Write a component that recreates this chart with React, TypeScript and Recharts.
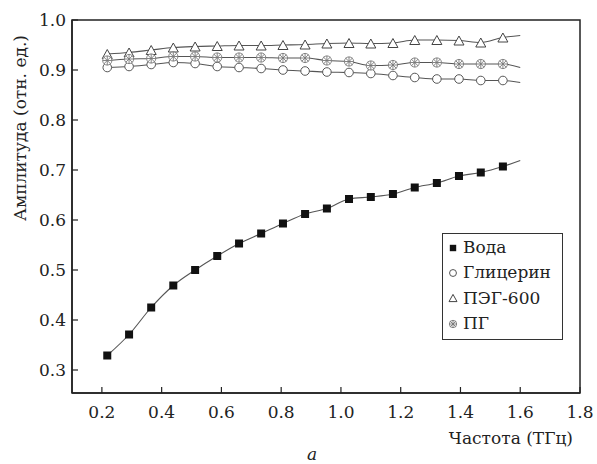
import { LineChart, Line, XAxis, YAxis, Legend, ReferenceArea } from 'recharts'

// frequency grid of the measured points (THz); the last one is where the fitted curves stop
const freq = [0.218, 0.291, 0.365, 0.439, 0.512, 0.586, 0.659, 0.733, 0.806, 0.88,
  0.953, 1.027, 1.1, 1.174, 1.247, 1.321, 1.395, 1.468, 1.542, 1.6]

const voda = [0.329, 0.371, 0.425, 0.469, 0.5, 0.528, 0.553, 0.573, 0.593, 0.612,
  0.623, 0.642, 0.646, 0.652, 0.665, 0.674, 0.688, 0.695, 0.707, 0.719]
const glycerin = [0.905, 0.907, 0.911, 0.915, 0.913, 0.907, 0.905, 0.903, 0.9, 0.898,
  0.896, 0.895, 0.893, 0.889, 0.885, 0.882, 0.882, 0.879, 0.879, 0.875]
const peg600 = [0.932, 0.935, 0.94, 0.945, 0.947, 0.948, 0.949, 0.949, 0.95, 0.951,
  0.953, 0.954, 0.953, 0.954, 0.96, 0.96, 0.959, 0.955, 0.965, 0.969]
const pg = [0.919, 0.922, 0.923, 0.927, 0.927, 0.925, 0.925, 0.925, 0.924, 0.924,
  0.919, 0.917, 0.909, 0.91, 0.915, 0.915, 0.912, 0.912, 0.912, 0.905]

const xTicks = [0.2, 0.4, 0.6, 0.8, 1.0, 1.2, 1.4, 1.6, 1.8]
const yTicks = [0.3, 0.4, 0.5, 0.6, 0.7, 0.8, 0.9, 1.0]

const series = [
  { key: 'voda', name: 'Вода', values: voda },
  { key: 'glycerin', name: 'Глицерин', values: glycerin },
  { key: 'peg', name: 'ПЭГ-600', values: peg600 },
  { key: 'pg', name: 'ПГ', values: pg },
]

const rows = freq.map((f, i) => {
  const row: Record<string, number> = { f }
  series.forEach((s) => { row[s.key] = s.values[i] })
  return row
})

const FONT = "'DejaVu Serif'"
const FS = 17
const INK = '#222'
const LINE = '#555'

function Marker({ kind, cx, cy, scale = 1 }: { kind: string; cx: number; cy: number; scale?: number }) {
  if (kind === 'voda') {
    const s = 4 * scale
    return <rect x={cx - s} y={cy - s} width={2 * s} height={2 * s} fill="#111" />
  }
  if (kind === 'glycerin') {
    return <circle cx={cx} cy={cy} r={4.3 * scale} fill="#fff" stroke="#555" strokeWidth={1} />
  }
  if (kind === 'peg') {
    const w = 5 * scale
    const h = 4.5 * scale
    return (
      <polygon
        points={`${cx},${cy - h} ${cx + w},${cy + h} ${cx - w},${cy + h}`}
        fill="#fff"
        stroke="#444"
        strokeWidth={1}
      />
    )
  }
  // ПГ: hatched crossed circle
  const r = 4.6 * scale
  const d = r * 0.75
  return (
    <g stroke="#777" strokeWidth={0.9} fill="none">
      <circle cx={cx} cy={cy} r={r} fill="#fff" />
      <line x1={cx - d} y1={cy - d} x2={cx + d} y2={cy + d} />
      <line x1={cx - d} y1={cy + d} x2={cx + d} y2={cy - d} />
      <line x1={cx - r} y1={cy} x2={cx + r} y2={cy} />
      <line x1={cx} y1={cy - r} x2={cx} y2={cy + r} />
    </g>
  )
}

function makeDot(kind: string) {
  return (props: any) => {
    const { cx, cy, index } = props
    if (index === rows.length - 1 || cx == null) return <g key={`${kind}-${index}`} />
    return (
      <g key={`${kind}-${index}`}>
        <Marker kind={kind} cx={cx} cy={cy} />
      </g>
    )
  }
}

function XTick({ x, y, payload }: any) {
  return (
    <g>
      <line x1={x} y1={y} x2={x} y2={y - 6} stroke={INK} strokeWidth={1.2} />
      <text x={x} y={y + 19} dy="0.35em" textAnchor="middle" style={{ fontFamily: FONT }} fontSize={FS} fill={INK}>
        {payload.value.toFixed(1)}
      </text>
    </g>
  )
}

function YTick({ x, y, payload }: any) {
  return (
    <g>
      <line x1={x} y1={y} x2={x + 6} y2={y} stroke={INK} strokeWidth={1.2} />
      <text x={x - 6} y={y} dy="0.35em" textAnchor="end" style={{ fontFamily: FONT }} fontSize={FS} fill={INK}>
        {payload.value.toFixed(1)}
      </text>
    </g>
  )
}

function XTitle({ viewBox }: any) {
  const right = viewBox.x + viewBox.width
  return (
    <g style={{ fontFamily: FONT }} fill={INK}>
      <text x={right - 7} y={viewBox.y + 51} textAnchor="end" fontSize={FS}>Частота (ТГц)</text>
      <text x={viewBox.x + 240} y={viewBox.y + 67} textAnchor="middle" fontSize={FS} fontStyle="italic">а</text>
    </g>
  )
}

function YTitle({ viewBox }: any) {
  const cx = viewBox.x + 20
  const cy = 128
  return (
    <text
      x={cx}
      y={cy}
      transform={`rotate(-90 ${cx} ${cy})`}
      dy="0.35em"
      textAnchor="middle"
      style={{ fontFamily: FONT }}
      fontSize={FS}
      fill={INK}
    >
      Амплитуда (отн. ед.)
    </text>
  )
}

function LegendBox() {
  return (
    <div
      style={{
        border: '1px solid #333',
        width: 121,
        height: 107,
        boxSizing: 'border-box',
        padding: '1px 0 0 3px',
        fontFamily: FONT,
        fontSize: FS,
        color: INK,
        background: '#fff',
      }}
    >
      {series.map((s) => (
        <div key={s.key} style={{ display: 'flex', alignItems: 'center', height: 25.3 }}>
          <svg width={14} height={14} style={{ marginRight: 3 }}>
            <Marker kind={s.key} cx={7} cy={7} scale={0.8} />
          </svg>
          <span style={{ lineHeight: 1 }}>{s.name}</span>
        </div>
      ))}
    </div>
  )
}

export default function App() {
  return (
    <div style={{ position: 'absolute', left: 0, top: 0, width: 597, height: 464, background: '#fff' }}>
      <LineChart width={597} height={464} data={rows} margin={{ top: 20, right: 17, bottom: 0, left: 0 }}>
        <XAxis
          type="number"
          dataKey="f"
          domain={[0.1, 1.8]}
          ticks={xTicks}
          interval={0}
          allowDataOverflow
          height={71}
          tickSize={0}
          tickMargin={0}
          tickLine={false}
          axisLine={{ stroke: INK, strokeWidth: 1.5 }}
          tick={<XTick />}
          label={<XTitle />}
        />
        <YAxis
          type="number"
          domain={[0.254, 1.0]}
          ticks={yTicks}
          interval={0}
          allowDataOverflow
          width={72}
          tickSize={0}
          tickMargin={0}
          tickLine={false}
          axisLine={{ stroke: INK, strokeWidth: 1.5 }}
          tick={<YTick />}
          label={<YTitle />}
        />
        <ReferenceArea x1={0.1} x2={1.8} y1={0.254} y2={1.0} fill="none" stroke={INK} strokeWidth={1.5} />
        {series.map((s) => (
          <Line
            key={s.key}
            dataKey={s.key}
            name={s.name}
            type="monotone"
            stroke={LINE}
            strokeWidth={1.1}
            dot={makeDot(s.key)}
            activeDot={false}
            isAnimationActive={false}
          />
        ))}
        <Legend
          layout="vertical"
          align="center"
          verticalAlign="middle"
          wrapperStyle={{ left: 442, top: 233, width: 121 }}
          content={<LegendBox />}
        />
      </LineChart>
    </div>
  )
}
